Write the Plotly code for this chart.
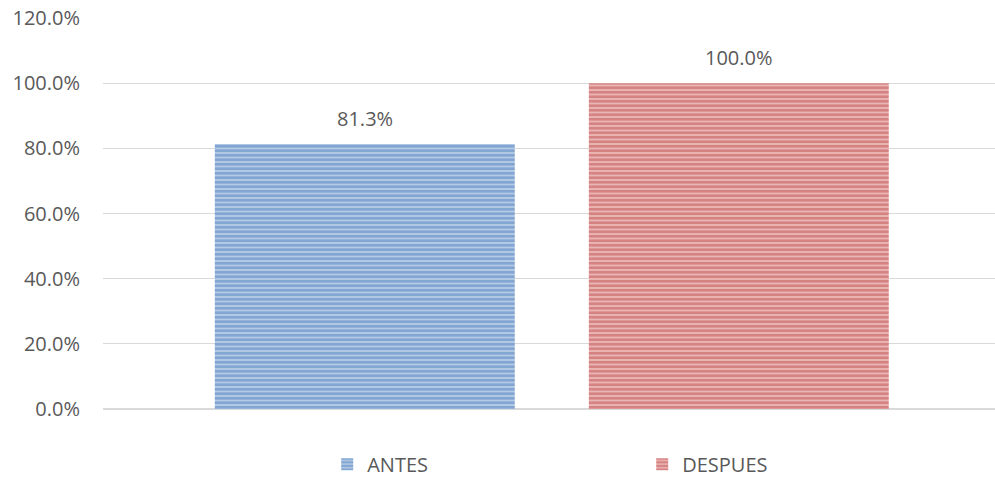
import plotly.graph_objects as go

series = ["ANTES", "DESPUES"]
values = [0.813, 1.0]
fg_colors = ["#4A7CB9", "#BE4A47"]
bg_colors = ["#BBCFE8", "#EDBDBC"]
y_ticks = [0, 0.2, 0.4, 0.6, 0.8, 1.0, 1.2]

FONT = "Open Sans"
TXT = "#595959"

fig = go.Figure()
for name, v, fg, bg in zip(series, values, fg_colors, bg_colors):
    fig.add_trace(go.Bar(
        x=[name], y=[v], name=name,
        marker=dict(color=bg, line=dict(width=0),
                    pattern=dict(shape="-", fgcolor=fg, bgcolor=bg, size=4.5, solidity=0.65, fillmode="overlay")),
        hoverinfo="skip",
    ))
    fig.add_annotation(x=name, y=v, text=f"{v*100:.1f}%", showarrow=False,
                       yanchor="bottom", yshift=10,
                       font=dict(family=FONT, size=20, color=TXT))

fig.update_layout(
    width=995, height=478,
    margin=dict(l=103, r=0, t=18, b=69, autoexpand=False),
    paper_bgcolor="white", plot_bgcolor="white",
    bargap=0.198,
    showlegend=True,
    legend=dict(orientation="h", x=0.6045, xanchor="center", y=-0.141, yanchor="middle",
                font=dict(family=FONT, size=20, color=TXT),
                itemwidth=30, entrywidth=270, entrywidthmode="pixels", itemclick=False),
    font=dict(family=FONT, size=20, color=TXT),
)
fig.update_xaxes(range=[-0.70, 1.685], showticklabels=False, showgrid=False, zeroline=False,
                 ticks="", automargin=False)
fig.update_yaxes(range=[0, 1.2], tickvals=y_ticks, tickformat=".1%", showgrid=True,
                 gridcolor="#D9D9D9", gridwidth=1, zeroline=True, zerolinecolor="#D9D9D9",
                 tickfont=dict(family=FONT, size=20, color=TXT), ticks="", ticklabelstandoff=22,
                 automargin=False)
fig.write_html("out.html", config={"displayModeBar": False},
               post_script="document.body.style.margin='0';document.body.style.overflow='hidden';")
